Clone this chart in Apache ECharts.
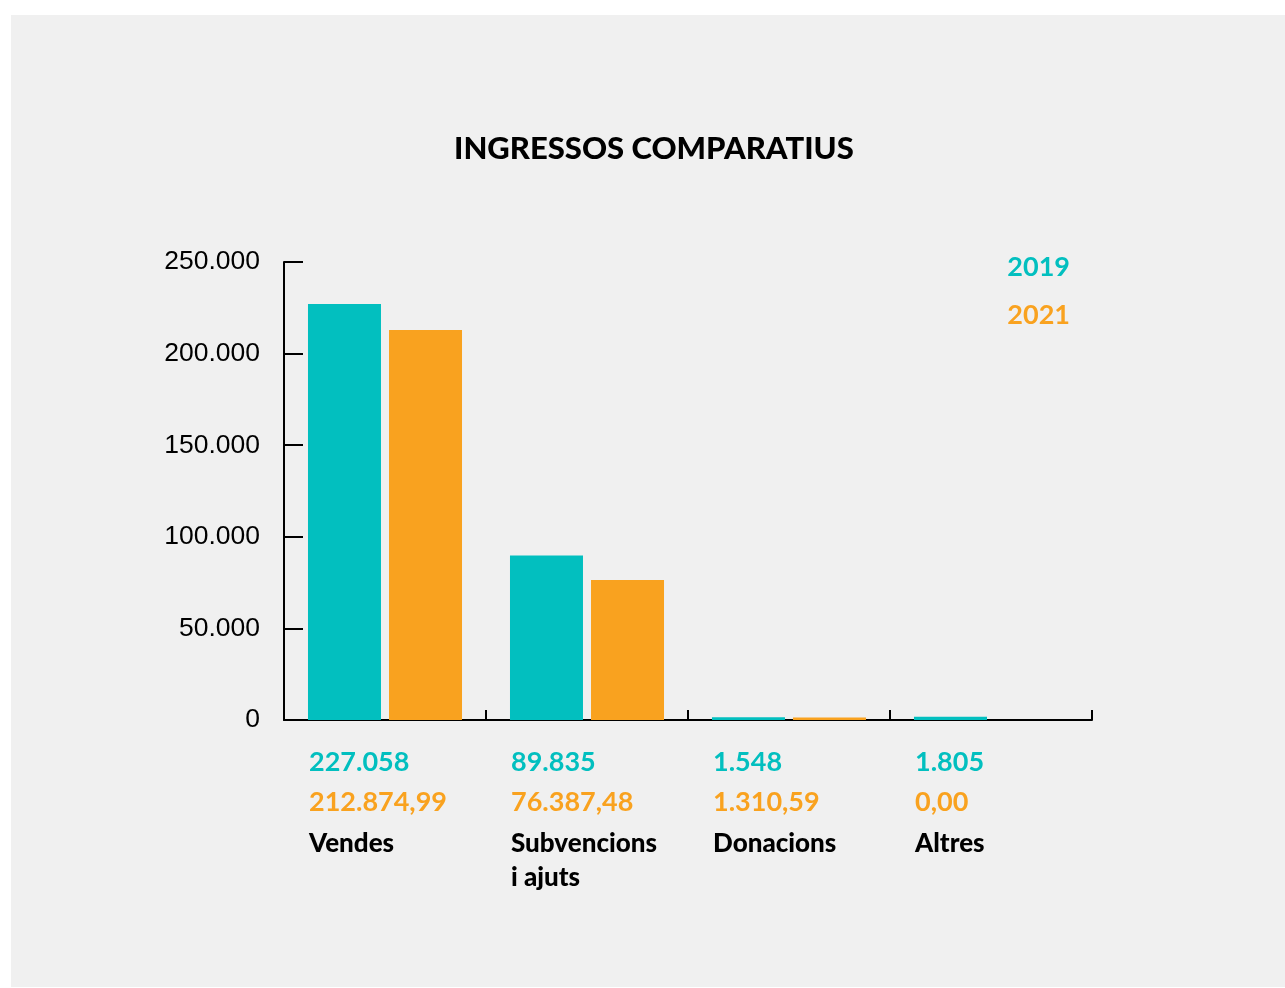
<!DOCTYPE html>
<html>
<head>
<meta charset="utf-8">
<script src="https://cdn.jsdelivr.net/npm/echarts@6/dist/echarts.min.js"></script>
<style>
	body { margin: 0; background: #ffffff; }
	#panel { position: absolute; left: 11px; top: 15px; width: 1274px; height: 972px; background: #f0f0f0; }
	#chart { position: absolute; left: 0; top: 0; width: 1285px; height: 988px; }
</style>
</head>
<body>
<div id="panel"></div>
<div id="chart"></div>
<script>
// dades
var categories = ['Vendes', 'Subvencions\ni ajuts', 'Donacions', 'Altres'];
var values2019 = [227058, 89835, 1548, 1805];
var values2021 = [212874.99, 76387.48, 1310.59, 0];
var yTicks = [0, 50000, 100000, 150000, 200000, 250000];

var teal = '#02bfbf';
var orange = '#f9a21f';

function thousands(n) {
	return String(n).replace(/\B(?=(\d{3})+(?!\d))/g, '.');
}
function fmt2019(v) {
	return thousands(Math.round(v));
}
function fmt2021(v) {
	var parts = v.toFixed(2).split('.');
	return thousands(parts[0]) + ',' + parts[1];
}

var myChart = echarts.init(document.getElementById('chart'));

var option = {
	backgroundColor: 'transparent',
	animation: false,
	title: {
		text: 'INGRESSOS COMPARATIUS',
		left: 454,
		top: 133,
		padding: 0,
		textStyle: {
			fontFamily: 'Lato',
			fontWeight: 900,
			fontSize: 31,
			color: '#000'
		}
	},
	legend: {
		orient: 'vertical',
		right: 215,
		top: 253,
		padding: 0,
		itemGap: 20,
		icon: 'none',
		itemWidth: 0,
		itemHeight: 0,
		selectedMode: false,
		textStyle: {
			fontFamily: 'Lato',
			fontWeight: 'bold',
			fontSize: 27,
			lineHeight: 28,
			padding: [0, 0, 0, 0]
		},
		data: [
			{ name: '2019', textStyle: { color: teal } },
			{ name: '2021', textStyle: { color: orange } }
		]
	},
	grid: {
		left: 284,
		right: 193,
		top: 262,
		bottom: 268,
		containLabel: false
	},
	xAxis: {
		type: 'category',
		data: categories,
		axisLine: { lineStyle: { color: '#000', width: 2 } },
		axisTick: {
			show: true,
			inside: true,
			length: 10,
			lineStyle: { color: '#000', width: 2 }
		},
		axisLabel: {
			interval: 0,
			margin: 22,
			align: 'center',
			verticalAlign: 'top',
			formatter: function (value, idx) {
				var nameLines = value.split('\n').map(function (l) {
					return '{n|' + l + '}';
				}).join('\n');
				return '{a|' + fmt2019(values2019[idx]) + '}\n' +
					'{b|' + fmt2021(values2021[idx]) + '}\n' + nameLines;
			},
			rich: {
				a: { width: 152, align: 'left', color: teal, fontFamily: 'Lato', fontWeight: 'bold', fontSize: 27, lineHeight: 40 },
				b: { width: 152, align: 'left', color: orange, fontFamily: 'Lato', fontWeight: 'bold', fontSize: 27, lineHeight: 40 },
				n: { width: 152, align: 'left', color: '#000', fontFamily: 'Lato', fontWeight: 900, fontSize: 26, lineHeight: 34, padding: [10, 0, 0, 0] }
			}
		}
	},
	yAxis: {
		type: 'value',
		min: 0,
		max: 250000,
		interval: 50000,
		splitLine: { show: false },
		axisLine: { show: true, lineStyle: { color: '#000', width: 2 } },
		axisTick: {
			show: true,
			inside: true,
			length: 19,
			lineStyle: { color: '#000', width: 2 }
		},
		axisLabel: {
			margin: 24,
			color: '#000',
			fontFamily: 'Liberation Sans',
			fontSize: 26.5,
			formatter: function (v) {
				return yTicks.indexOf(v) >= 0 ? thousands(v) : '';
			}
		}
	},
	series: [
		{
			name: '2019',
			type: 'bar',
			data: values2019,
			barWidth: 73,
			barGap: '11%',
			itemStyle: { color: teal }
		},
		{
			name: '2021',
			type: 'bar',
			data: values2021,
			barWidth: 73,
			itemStyle: { color: orange }
		}
	]
};

myChart.setOption(option);
</script>
</body>
</html>
